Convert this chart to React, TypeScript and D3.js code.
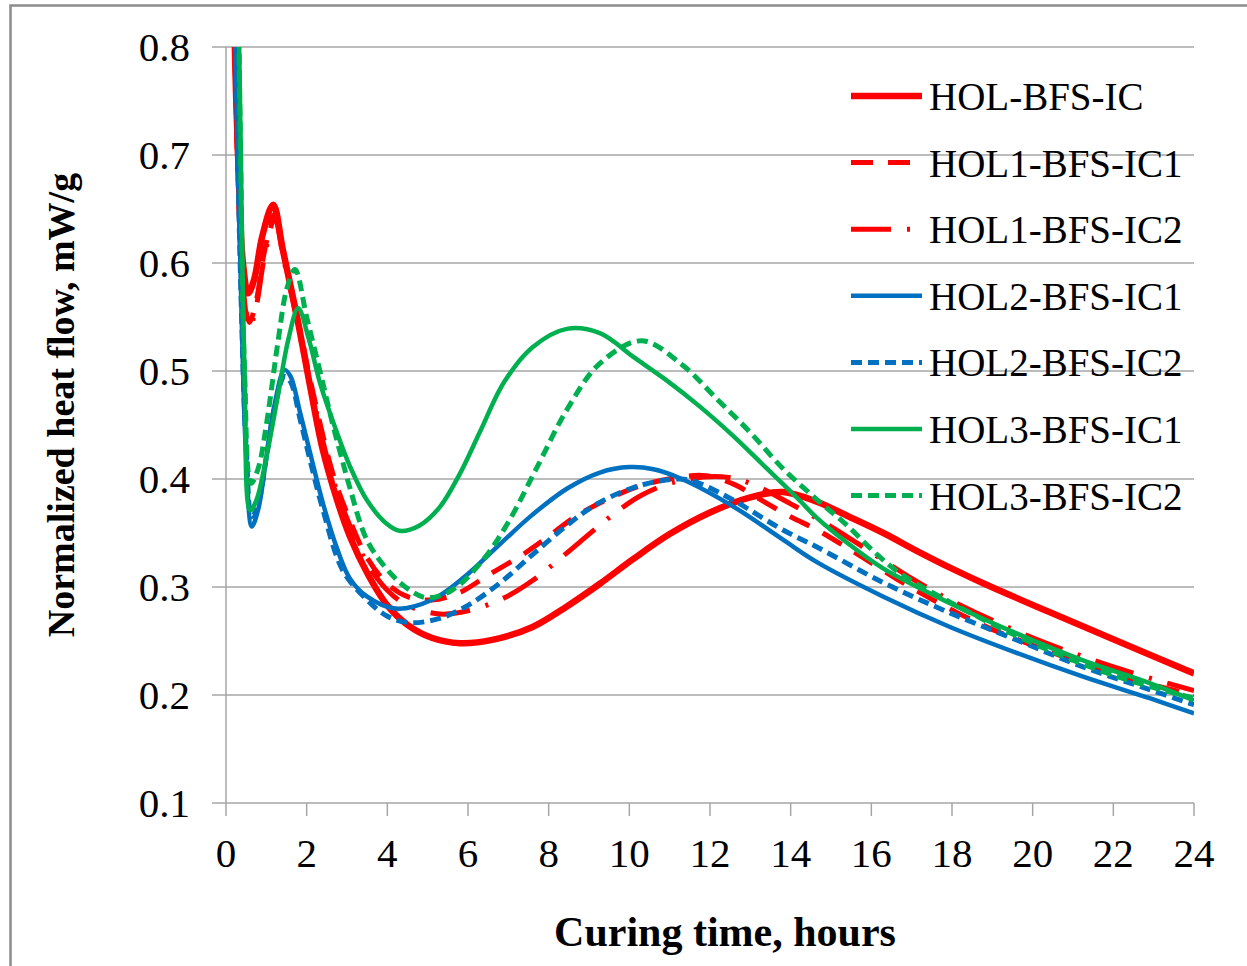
import React from "react";
import * as d3 from "d3";

type Pt = [number, number];

const xTicks = [0, 2, 4, 6, 8, 10, 12, 14, 16, 18, 20, 22, 24];
const yTicks = [0.1, 0.2, 0.3, 0.4, 0.5, 0.6, 0.7, 0.8];

const holBfsIc: Pt[] = [[0.15,1.0],[0.22,0.8],[0.3,0.7],[0.42,0.6],[0.55,0.572],[0.7,0.585],[0.9,0.625],[1.17,0.654],[1.41,0.612],[1.76,0.55],[2.08,0.487],[2.4,0.427],[2.75,0.381],[3.07,0.347],[3.5,0.313],[4.0,0.283],[4.5,0.265],[5.1,0.253],[5.8,0.248],[6.6,0.251],[7.6,0.263],[8.45,0.282],[9.27,0.303],[10.1,0.326],[11.0,0.349],[12.0,0.369],[13.0,0.383],[13.8,0.388],[14.65,0.379],[15.4,0.366],[16.3,0.35],[17.1,0.334],[18.0,0.317],[18.8,0.303],[20.4,0.277],[22.1,0.25],[24,0.22]];

const hol1Ic1: Pt[] = [[0.15,1.0],[0.22,0.8],[0.3,0.68],[0.42,0.58],[0.58,0.545],[0.75,0.565],[0.95,0.61],[1.2,0.645],[1.45,0.605],[1.8,0.545],[2.1,0.49],[2.65,0.405],[3.07,0.362],[3.5,0.327],[4.0,0.303],[4.5,0.291],[5.1,0.288],[5.8,0.295],[6.5,0.311],[7.4,0.331],[8.0,0.347],[8.7,0.366],[9.5,0.382],[10.3,0.394],[11.3,0.402],[11.9,0.403],[12.6,0.395],[13.2,0.382],[14.0,0.365],[14.65,0.353],[15.5,0.334],[17.1,0.297],[18.8,0.264],[20.0,0.246],[21.25,0.229],[22.5,0.214],[24,0.2]];

const hol1Ic2: Pt[] = [[0.15,1.0],[0.22,0.8],[0.3,0.68],[0.42,0.58],[0.58,0.54],[0.75,0.56],[0.95,0.605],[1.2,0.64],[1.45,0.6],[1.8,0.54],[2.1,0.485],[2.65,0.4],[3.07,0.357],[3.5,0.322],[4.0,0.297],[4.5,0.283],[5.3,0.275],[6.0,0.278],[6.9,0.29],[7.6,0.306],[8.4,0.33],[9.1,0.352],[9.7,0.37],[10.3,0.385],[11.2,0.398],[12.3,0.402],[13.0,0.396],[14.0,0.377],[15.0,0.356],[16.0,0.332],[17.0,0.308],[18.0,0.287],[20.0,0.253],[22.0,0.226],[24,0.204]];

const hol2Ic1: Pt[] = [[0.2,0.9],[0.28,0.72],[0.38,0.56],[0.5,0.42],[0.64,0.356],[0.8,0.372],[1.0,0.42],[1.2,0.468],[1.45,0.501],[1.6,0.495],[1.84,0.461],[2.08,0.425],[2.4,0.378],[2.75,0.336],[3.07,0.308],[3.5,0.291],[4.2,0.28],[5.1,0.288],[5.9,0.309],[6.8,0.34],[7.6,0.367],[8.45,0.391],[9.27,0.406],[10.0,0.411],[10.6,0.409],[11.3,0.4],[12.6,0.374],[13.8,0.344],[14.65,0.323],[16.3,0.291],[17.95,0.263],[19.6,0.239],[21.25,0.217],[22.9,0.197],[24,0.183]];

const hol2Ic2: Pt[] = [[0.2,0.9],[0.28,0.72],[0.38,0.56],[0.5,0.43],[0.64,0.365],[0.8,0.377],[1.0,0.42],[1.2,0.465],[1.45,0.495],[1.6,0.49],[1.84,0.455],[2.08,0.418],[2.4,0.372],[2.9,0.315],[3.5,0.288],[4.0,0.273],[4.56,0.267],[5.3,0.271],[6.0,0.283],[6.8,0.304],[7.6,0.33],[8.45,0.357],[9.2,0.377],[10.1,0.392],[10.9,0.399],[11.5,0.399],[12.6,0.38],[13.0,0.371],[13.8,0.353],[14.65,0.337],[16.3,0.304],[17.95,0.276],[19.6,0.251],[21.25,0.226],[22.9,0.205],[24,0.191]];

const hol3Ic1: Pt[] = [[0.28,0.92],[0.36,0.72],[0.46,0.5],[0.6,0.371],[0.75,0.38],[1.0,0.42],[1.3,0.48],[1.55,0.53],[1.79,0.558],[2.05,0.53],[2.33,0.489],[2.75,0.443],[3.07,0.412],[3.5,0.38],[4.0,0.358],[4.3,0.352],[4.8,0.357],[5.3,0.374],[5.8,0.405],[6.3,0.444],[6.9,0.49],[7.6,0.522],[8.45,0.539],[9.27,0.535],[10.1,0.513],[10.9,0.492],[11.75,0.467],[12.6,0.439],[13.4,0.41],[14.2,0.381],[14.65,0.364],[15.4,0.341],[16.3,0.317],[17.95,0.285],[19.6,0.257],[21.25,0.232],[22.9,0.211],[24,0.195]];

const hol3Ic2: Pt[] = [[0.28,0.92],[0.36,0.7],[0.46,0.5],[0.62,0.396],[0.8,0.41],[1.0,0.45],[1.3,0.53],[1.5,0.575],[1.71,0.594],[2.0,0.55],[2.4,0.489],[2.65,0.45],[2.9,0.415],[3.07,0.392],[3.5,0.343],[4.07,0.313],[4.56,0.297],[4.98,0.29],[5.6,0.297],[6.37,0.325],[7.0,0.36],[7.7,0.41],[8.45,0.464],[9.27,0.507],[10.3,0.528],[11.3,0.506],[12.2,0.473],[13.0,0.443],[13.8,0.41],[14.65,0.381],[15.4,0.357],[16.0,0.335],[16.7,0.313],[17.95,0.286],[20,0.248],[22.1,0.217],[24,0.197]];

const seriesNames = ["HOL-BFS-IC", "HOL1-BFS-IC1", "HOL1-BFS-IC2", "HOL2-BFS-IC1", "HOL2-BFS-IC2", "HOL3-BFS-IC1", "HOL3-BFS-IC2"];
const seriesData = [holBfsIc, hol1Ic1, hol1Ic2, hol2Ic1, hol2Ic2, hol3Ic1, hol3Ic2];
const seriesColors = ["#FF0000", "#FF0000", "#FF0000", "#0070C0", "#0070C0", "#00B050", "#00B050"];
const seriesDash = ["", "22,15", "40,16,3,16", "", "11,6", "", "11,6"];
const seriesWidth = [6.5, 5, 5, 4.5, 5, 4.5, 5];

const W = 1247;
const H = 966;
const left = 226;
const right = 1194;
const top = 47;
const bottom = 803;
const font = "'Liberation Serif', 'Times New Roman', serif";
const gridColor = "#A6A6A6";

export default function App() {
  const x = d3.scaleLinear().domain([0, 24]).range([left, right]);
  const y = d3.scaleLinear().domain([0.1, 0.8]).range([bottom, top]);
  const line = d3
    .line<Pt>()
    .x((d) => x(d[0]))
    .y((d) => y(d[1]))
    .curve(d3.curveCatmullRom.alpha(0.5));

  const legendX1 = 851;
  const legendX2 = 922;
  const legendY0 = 96;
  const legendStep = 66.6;

  return (
    <svg
      width={W}
      height={H}
      style={{ position: "absolute", left: 0, top: 0, background: "#fff" }}
      xmlns="http://www.w3.org/2000/svg"
    >
      <rect x={0} y={0} width={W} height={H} fill="#fff" />
      <rect x={10.5} y={5.5} width={W + 20} height={H + 20} fill="none" stroke="#8C8C8C" strokeWidth={2.5} />
      <defs>
        <clipPath id="plot">
          <rect x={left} y={top} width={right - left} height={bottom - top} />
        </clipPath>
      </defs>
      {yTicks.map((t) => (
        <line key={"g" + t} x1={left - 14} x2={right} y1={y(t)} y2={y(t)} stroke={gridColor} strokeWidth={1.5} />
      ))}
      <line x1={left} x2={left} y1={top} y2={bottom} stroke={gridColor} strokeWidth={1.5} />
      {xTicks.map((t) => (
        <line key={"xt" + t} x1={x(t)} x2={x(t)} y1={bottom} y2={bottom + 13} stroke={gridColor} strokeWidth={1.5} />
      ))}
      {yTicks.map((t) => (
        <text key={"yl" + t} x={190} y={y(t)} dy="0.35em" textAnchor="end" fontFamily={font} fontSize={41} fill="#000">
          {t.toFixed(1)}
        </text>
      ))}
      {xTicks.map((t) => (
        <text key={"xl" + t} x={x(t)} y={867} textAnchor="middle" fontFamily={font} fontSize={41} fill="#000">
          {t}
        </text>
      ))}
      <g clipPath="url(#plot)">
        {seriesData.map((d, i) => (
          <path
            key={"s" + i}
            d={line(d) || ""}
            fill="none"
            stroke={seriesColors[i]}
            strokeWidth={seriesWidth[i]}
            strokeDasharray={seriesDash[i] || undefined}
            strokeLinejoin="round"
          />
        ))}
      </g>
      {seriesNames.map((n, i) => {
        const ly = legendY0 + i * legendStep;
        return (
          <g key={"lg" + i}>
            <line
              x1={legendX1}
              x2={legendX2}
              y1={ly}
              y2={ly}
              stroke={seriesColors[i]}
              strokeWidth={seriesWidth[i]}
              strokeDasharray={seriesDash[i] || undefined}
            />
            <text x={929} y={ly + 14} fontFamily={font} fontSize={39} fill="#000">
              {n}
            </text>
          </g>
        );
      })}
      <text x={725} y={946} textAnchor="middle" fontFamily={font} fontSize={42} fontWeight="bold" fill="#000">
        Curing time, hours
      </text>
      <text
        transform={`translate(74,405) rotate(-90)`}
        textAnchor="middle"
        fontFamily={font}
        fontSize={38}
        fontWeight="bold"
        fill="#000"
      >
        Normalized heat flow, mW/g
      </text>
    </svg>
  );
}
